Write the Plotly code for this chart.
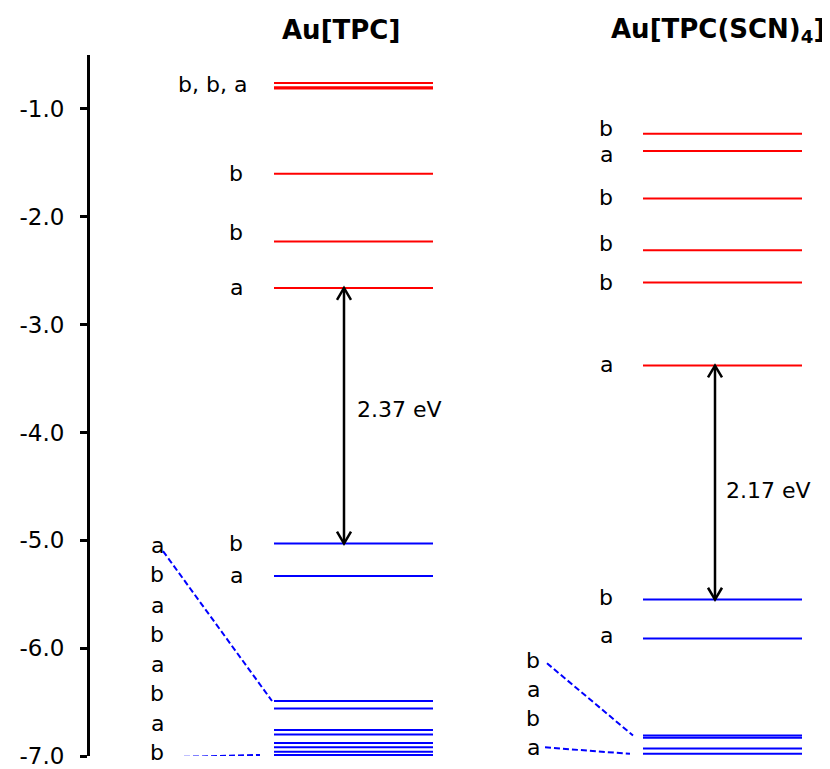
import plotly.graph_objects as go

# ---- data (energies in eV) ----
tpc_virtual = [-0.76, -0.80, -0.81, -1.60, -2.23, -2.66]
tpc_occ_top = [-5.03, -5.33]
tpc_level_labels = ["b, b, a", "b", "b", "a", "b", "a"]
tpc_level_label_e = [-0.77, -1.60, -2.15, -2.66, -5.03, -5.33]
tpc_occ_cluster = [-6.49, -6.56, -6.76, -6.80, -6.88, -6.92, -6.96, -6.99]
tpc_cluster_labels = ["a", "b", "a", "b", "a", "b", "a", "b"]
tpc_cluster_label_e = [-5.05, -5.32, -5.60, -5.87, -6.15, -6.42, -6.70, -6.97]
tpc_gap = "2.37 eV"

scn_virtual = [-1.23, -1.39, -1.83, -2.31, -2.61, -3.38]
scn_occ_top = [-5.55, -5.91]
scn_level_labels = ["b", "a", "b", "b", "b", "a", "b", "a"]
scn_level_label_e = [-1.18, -1.42, -1.82, -2.25, -2.61, -3.37, -5.53, -5.88]
scn_occ_cluster = [-6.81, -6.83, -6.93, -6.98]
scn_cluster_labels = ["b", "a", "b", "a"]
scn_cluster_label_e = [-6.11, -6.38, -6.65, -6.92]
scn_gap = "2.17 eV"

y_ticks = [-1.0, -2.0, -3.0, -4.0, -5.0, -6.0, -7.0]
titles = ["Au[TPC]", "Au[TPC(SCN)<sub>4</sub>]"]

# ---- layout constants (x in plot units) ----
RED, BLUE = "#FF0000", "#0000FF"
FONT = "DejaVu Sans, Arial, sans-serif"
HEAD_W = 7      # half-width of arrow head (x units)
HEAD_L = 0.11   # length of arrow head (eV)
cols = [
    dict(x0=184, x1=343, lab=146, inner=67, arrow=254, gapx=265, gapy=-3.79, title_x=251,
         virt=tpc_virtual, occ=tpc_occ_top, ll=tpc_level_labels, lle=tpc_level_label_e,
         clu=tpc_occ_cluster, cl=tpc_cluster_labels, cle=tpc_cluster_label_e, gap=tpc_gap,
         lab_first_x=122,
         d1=((73, -5.10), (182, tpc_occ_cluster[0])), d2=((85, -7.01), (170, tpc_occ_cluster[-1]))),
    dict(x0=553, x1=712, lab=516, inner=443, arrow=625, gapx=634, gapy=-4.54, title_x=628,
         virt=scn_virtual, occ=scn_occ_top, ll=scn_level_labels, lle=scn_level_label_e,
         clu=scn_occ_cluster, cl=scn_cluster_labels, cle=scn_cluster_label_e, gap=scn_gap,
         lab_first_x=516,
         d1=((457, -6.14), (543, scn_occ_cluster[0])), d2=((455, -6.92), (540, scn_occ_cluster[-1]))),
]

fig = go.Figure()
ann = []

def level_trace(x0, x1, energies, color):
    xs, ys = [], []
    for e in energies:
        xs += [x0, x1, None]
        ys += [e, e, None]
    return go.Scatter(x=xs, y=ys, mode="lines", line=dict(color=color, width=2),
                      hoverinfo="skip", showlegend=False)

for i, c in enumerate(cols):
    fig.add_trace(level_trace(c["x0"], c["x1"], c["virt"], RED))
    fig.add_trace(level_trace(c["x0"], c["x1"], c["occ"] + c["clu"], BLUE))
    for d in (c["d1"], c["d2"]):
        fig.add_trace(go.Scatter(x=[d[0][0], d[1][0]], y=[d[0][1], d[1][1]], mode="lines",
                                 line=dict(color=BLUE, width=2, dash="6px,3px"),
                                 hoverinfo="skip", showlegend=False))
    for j, (e, t) in enumerate(zip(c["lle"], c["ll"])):
        x = c["lab_first_x"] if j == 0 else c["lab"]
        ann.append(dict(x=x, y=e, text=t, showarrow=False, xanchor="center", yanchor="middle"))
    for e, t in zip(c["cle"], c["cl"]):
        ann.append(dict(x=c["inner"], y=e, text=t, showarrow=False, xanchor="center", yanchor="middle"))
    # double-headed gap arrow: shaft + two open V heads
    top, bot = c["virt"][-1], c["occ"][0]
    ax = c["arrow"]
    xs = [ax, ax, None,
          ax - HEAD_W, ax, ax + HEAD_W, None,
          ax - HEAD_W, ax, ax + HEAD_W]
    ys = [top, bot, None,
          top - HEAD_L, top, top - HEAD_L, None,
          bot + HEAD_L, bot, bot + HEAD_L]
    fig.add_trace(go.Scatter(x=xs, y=ys, mode="lines",
                             line=dict(color="black", width=2.5),
                             hoverinfo="skip", showlegend=False))
    ann.append(dict(x=c["gapx"], y=c["gapy"], text=c["gap"], showarrow=False,
                    xanchor="left", yanchor="middle", font=dict(size=22)))
    ann.append(dict(x=c["title_x"], xref="x", y=1.0355, yref="paper",
                    text="<b>" + titles[i] + "</b>", showarrow=False,
                    xanchor="center", yanchor="middle", font=dict(size=26, color="black", family=FONT)))

fig.update_layout(
    width=822, height=761,
    margin=dict(l=82, r=0, t=47, b=10),
    paper_bgcolor="white", plot_bgcolor="white",
    font=dict(family=FONT, size=22, color="black"),
    annotations=ann,
    xaxis=dict(range=[0, 740], visible=False, fixedrange=True),
    yaxis=dict(range=[-7.0, -0.5], tickvals=y_ticks, ticktext=[f"{v:.1f}" for v in y_ticks],
               showgrid=False, zeroline=False, showline=True, linecolor="black", linewidth=3,
               ticks="outside", ticklen=7, tickwidth=3, tickcolor="black",
               tickfont=dict(size=23, family=FONT), ticklabelstandoff=11,
               ticklabeloverflow="allow"),
    showlegend=False,
)

fig.write_html("out.html")
